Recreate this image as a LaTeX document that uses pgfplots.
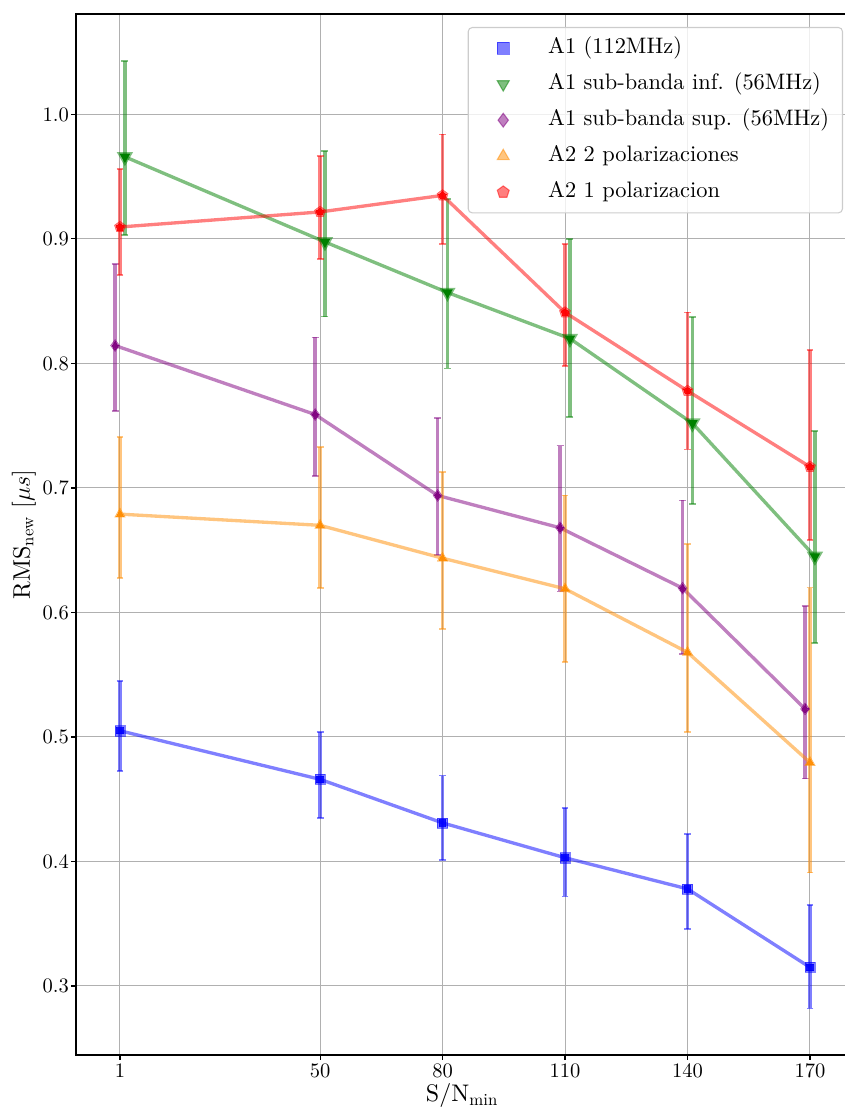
\RequirePackage{fix-cm}
\documentclass[border=0pt]{standalone}
\usepackage{fontspec}
\setmainfont{lmroman10-regular}[Extension=.otf, ItalicFont=lmroman10-italic, BoldFont=lmroman10-bold]
\usepackage{pgfplots}
\pgfplotsset{compat=1.18}
\definecolor{mplgreen}{rgb}{0,0.5,0}
\definecolor{mplpurple}{rgb}{0.5,0,0.5}
\definecolor{mplorange}{HTML}{FF8C00}
\definecolor{gridgray}{HTML}{B0B0B0}
\definecolor{legframe}{gray}{0.8}
\newcommand{\bigfont}{\fontsize{16.8}{20}\selectfont}
\newcommand{\labfont}{\fontsize{18}{21}\selectfont}
\newcommand{\tickfont}{\fontsize{15.4}{18}\selectfont}
\pgfplotsset{
  ser/.style={color=#1, line width=2.5pt, draw opacity=0.5,
    mark options={solid, fill opacity=0.5, draw opacity=0.5, line width=0.3pt},
    error bars/y dir=both, error bars/y explicit,
    error bars/error bar style={line width=2.5pt, opacity=0.5},
    error bars/error mark options={line width=1.2pt, mark size=2.6pt, opacity=0.5, rotate=90}},
  core/.style={only marks, color=#1, forget plot, mark options={solid, fill opacity=0.85, draw opacity=0.85, line width=0pt}}
}
\begin{document}
\begin{tikzpicture}
\begin{axis}[
  at={(0,0)}, anchor=south west,
  scale only axis, width=579pt, height=780.75pt,
  xmin=-9.777, xmax=179.31, ymin=0.24458, ymax=1.0807,
  xtick={1,50,80,110,140,170},
  ytick={0.3,0.4,0.5,0.6,0.7,0.8,0.9,1.0},
  ticklabel style={font=\tickfont, /pgf/number format/assume math mode=true},
  yticklabel style={inner xsep=1.5pt, /pgf/number format/fixed, /pgf/number format/fixed zerofill, /pgf/number format/precision=1},
  xticklabel style={inner ysep=2.5pt},
  tick align=outside, major tick length=3.7pt,
  xtick pos=left, ytick pos=left,
  tick style={black, line width=0.8pt},
  axis line style={black, line width=1pt},
  grid=major, grid style={gridgray, line width=0.75pt},
  xlabel={S/N$_{\mathrm{min}}$},
  ylabel={RMS$_{\mathrm{new}}$ [$\mu s$]},
  label style={font=\labfont},
  xlabel style={yshift=1.5pt},
  legend cell align=left,
  legend image code/.code={\path[draw=none,fill=none] (-18.25pt,0) -- (31.75pt,0); \draw[#1] plot coordinates {(0pt,0pt)};},
  legend style={at={(0.99352,0.98751)}, anchor=north east, font=\bigfont,
    draw=legframe, line width=0.8pt, rounded corners=3pt, fill=white, fill opacity=0.8, text opacity=1,
    inner xsep=8pt, inner ysep=5pt, row sep=6pt, column sep=0pt,
    nodes={text height=12.5pt, text depth=4.5pt, inner xsep=2pt, inner ysep=2pt}},
]
\addlegendimage{only marks, mark=square*, color=blue, mark size=4.4pt, mark options={opacity=0.5}}
\addlegendentry{A1 (112MHz)}
\addlegendimage{only marks, mark=triangle*, color=mplgreen, mark size=5.2pt, mark options={opacity=0.5, rotate=180}}
\addlegendentry{A1 sub-banda inf. (56MHz)}
\addlegendimage{only marks, mark=diamond*, color=mplpurple, mark size=5.2pt, mark options={opacity=0.5}}
\addlegendentry{A1 sub-banda sup. (56MHz)}
\addlegendimage{only marks, mark=triangle*, color=mplorange, mark size=5.2pt, mark options={opacity=0.5}}
\addlegendentry{A2 2 polarizaciones}
\addlegendimage{only marks, mark=pentagon*, color=red, mark size=4.7pt, mark options={opacity=0.5}}
\addlegendentry{A2 1 polarizacion}

% A1 (112MHz)
\addplot[ser=blue, mark=square*, mark size=3.8pt, forget plot] coordinates {
 (1,0.505) += (0,0.040) -= (0,0.0325)
 (50,0.466) += (0,0.038) -= (0,0.031)
 (80,0.431) += (0,0.038) -= (0,0.030)
 (110,0.403) += (0,0.040) -= (0,0.031)
 (140,0.378) += (0,0.044) -= (0,0.032)
 (170,0.315) += (0,0.050) -= (0,0.033)
};
\addplot[core=blue, mark=square*, mark size=2.4pt] coordinates {
 (1,0.505) (50,0.466) (80,0.431) (110,0.403) (140,0.378) (170,0.315)};

% A1 sub-banda inf.
\addplot[ser=mplgreen, mark=triangle*, mark size=4.6pt, mark options={rotate=180}, forget plot] coordinates {
 (2.2,0.966) += (0,0.077) -= (0,0.063)
 (51.2,0.8976) += (0,0.073) -= (0,0.060)
 (81.2,0.857) += (0,0.075) -= (0,0.061)
 (111.2,0.820) += (0,0.080) -= (0,0.063)
 (141.2,0.752) += (0,0.0855) -= (0,0.065)
 (171.2,0.645) += (0,0.101) -= (0,0.0695)
};
\addplot[core=mplgreen, mark=triangle*, mark size=3pt, mark options={rotate=180}] coordinates {
 (2.2,0.966) (51.2,0.8976) (81.2,0.857) (111.2,0.820) (141.2,0.752) (171.2,0.645)};

% A1 sub-banda sup.
\addplot[ser=mplpurple, mark=diamond*, mark size=4.6pt, forget plot] coordinates {
 (-0.2,0.8144) += (0,0.0655) -= (0,0.0524)
 (48.8,0.759) += (0,0.062) -= (0,0.0494)
 (78.8,0.694) += (0,0.062) -= (0,0.048)
 (108.8,0.668) += (0,0.066) -= (0,0.051)
 (138.8,0.6195) += (0,0.0705) -= (0,0.053)
 (168.8,0.5225) += (0,0.0825) -= (0,0.056)
};
\addplot[core=mplpurple, mark=diamond*, mark size=3pt] coordinates {
 (-0.2,0.8144) (48.8,0.759) (78.8,0.694) (108.8,0.668) (138.8,0.6195) (168.8,0.5225)};

% A2 2 polarizaciones
\addplot[ser=mplorange, mark=triangle*, mark size=4.6pt, forget plot] coordinates {
 (1,0.679) += (0,0.062) -= (0,0.0515)
 (50,0.670) += (0,0.063) -= (0,0.0505)
 (80,0.6436) += (0,0.069) -= (0,0.057)
 (110,0.619) += (0,0.075) -= (0,0.059)
 (140,0.568) += (0,0.087) -= (0,0.064)
 (170,0.4795) += (0,0.1405) -= (0,0.0885)
};
\addplot[core=mplorange, mark=triangle*, mark size=3pt] coordinates {
 (1,0.679) (50,0.670) (80,0.6436) (110,0.619) (140,0.568) (170,0.4795)};

% A2 1 polarizacion
\addplot[ser=red, mark=pentagon*, mark size=4.4pt, forget plot] coordinates {
 (1,0.9096) += (0,0.0464) -= (0,0.0386)
 (50,0.9217) += (0,0.045) -= (0,0.038)
 (80,0.935) += (0,0.049) -= (0,0.039)
 (110,0.841) += (0,0.055) -= (0,0.043)
 (140,0.778) += (0,0.063) -= (0,0.047)
 (170,0.717) += (0,0.094) -= (0,0.059)
};
\addplot[core=red, mark=pentagon*, mark size=2.8pt] coordinates {
 (1,0.9096) (50,0.9217) (80,0.935) (110,0.841) (140,0.778) (170,0.717)};
\end{axis}
\pgfresetboundingbox
\useasboundingbox (-57pt,-40.5pt) rectangle (576.75pt,791.25pt);
\end{tikzpicture}
\end{document}
